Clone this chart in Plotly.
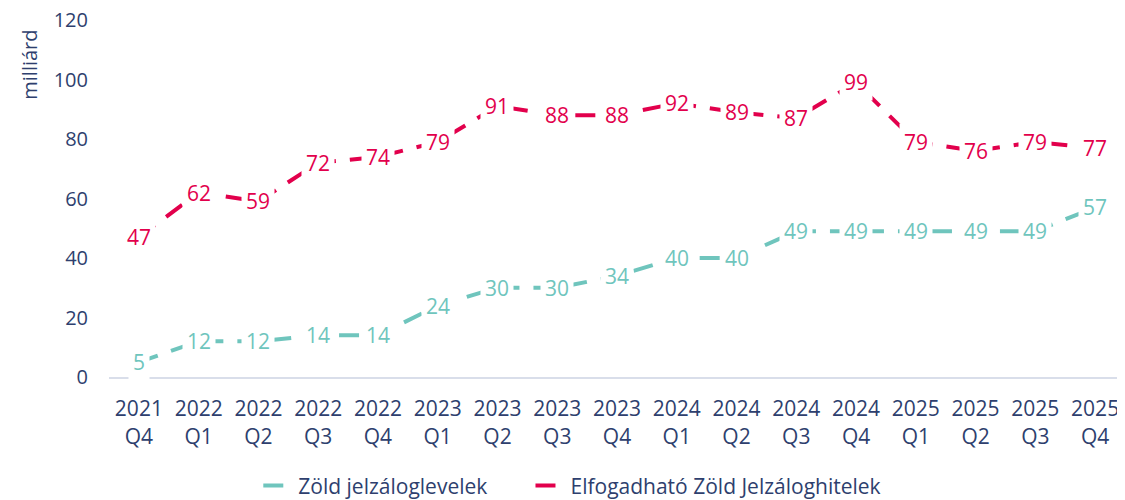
import plotly.graph_objects as go

years = ["2021", "2022", "2022", "2022", "2022", "2023", "2023", "2023", "2023",
         "2024", "2024", "2024", "2024", "2025", "2025", "2025", "2025"]
quarters = ["Q4", "Q1", "Q2", "Q3", "Q4", "Q1", "Q2", "Q3", "Q4",
            "Q1", "Q2", "Q3", "Q4", "Q1", "Q2", "Q3", "Q4"]
categories = [f"{y}<br>{q}" for y, q in zip(years, quarters)]

zold_jelzaloglevelek = [5, 12, 12, 14, 14, 24, 30, 30, 34, 40, 40, 49, 49, 49, 49, 49, 57]
elfogadhato_hitelek = [47, 62, 59, 72, 74, 79, 91, 88, 88, 92, 89, 87, 99, 79, 76, 79, 77]

teal = "#6fc5bd"
red = "#e2004c"
navy = "#2e3f6e"
font_family = "Open Sans, Noto Sans, sans-serif"

fig = go.Figure()
fig.add_trace(go.Scatter(x=categories, y=zold_jelzaloglevelek, mode="lines",
                         name="Zöld jelzáloglevelek" + "\u00a0" * 7,
                         line=dict(color=teal, width=4, dash="20px,14px")))
fig.add_trace(go.Scatter(x=categories, y=elfogadhato_hitelek, mode="lines",
                         name="Elfogadható Zöld Jelzáloghitelek",
                         line=dict(color=red, width=4, dash="20px,14px")))

annotations = []
for series, color in ((zold_jelzaloglevelek, teal), (elfogadhato_hitelek, red)):
    for c, v in zip(categories, series):
        annotations.append(dict(x=c, y=v, xref="x", yref="y", text=str(v),
                                showarrow=False, bgcolor="white",
                                font=dict(family=font_family, size=21, color=color),
                                borderpad=4))

annotations.append(dict(x=-0.078, y=0.874, xref="paper", yref="paper", text="milliárd",
                        textangle=-90, showarrow=False, xanchor="center", yanchor="middle",
                        font=dict(family=font_family, size=20, color=navy)))

# page body has an 8px default margin, so the figure is sized to the remaining area
fig.update_layout(
    width=1117, height=492,
    margin=dict(l=101, r=0, t=12, b=123, autoexpand=False),
    paper_bgcolor="white", plot_bgcolor="white",
    font=dict(family=font_family, size=20, color=navy),
    showlegend=True,
    legend=dict(orientation="h", x=0.456, xanchor="center", y=-0.305, yanchor="middle",
                font=dict(size=21, color=navy), traceorder="normal"),
    annotations=annotations,
)
fig.update_xaxes(range=[-0.5, 16.5], showgrid=False, showline=True, linecolor="#d9deea",
                 linewidth=2, ticks="outside", ticklen=12, tickcolor="rgba(0,0,0,0)",
                 tickfont=dict(size=21, color=navy), ticklabeloverflow="allow")
fig.update_yaxes(range=[0, 120], dtick=20, showgrid=False, zeroline=False,
                 showline=False, ticks="outside", ticklen=16, tickcolor="rgba(0,0,0,0)",
                 tickfont=dict(size=20, color=navy), ticklabeloverflow="allow")

fig.write_html("out.html")
